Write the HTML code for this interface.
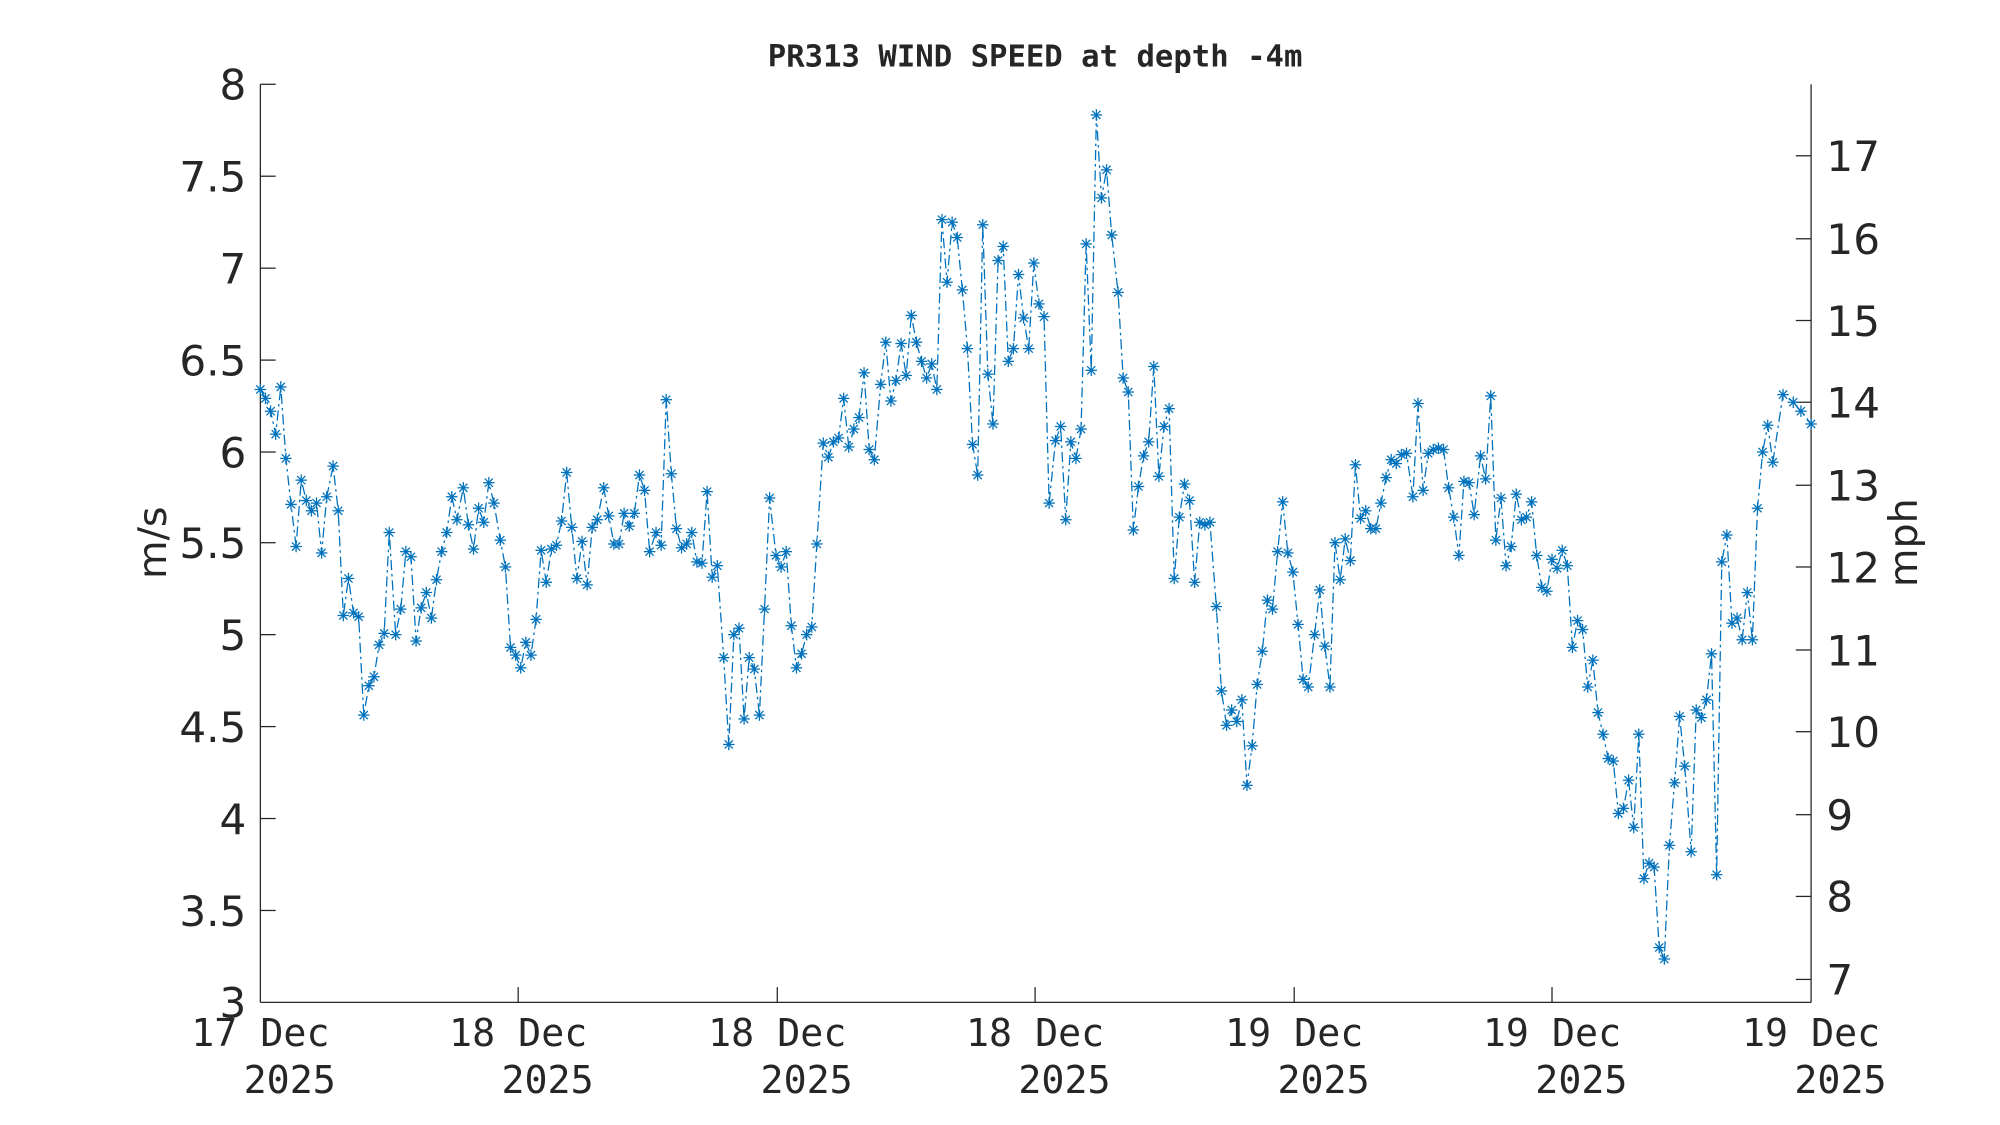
<!DOCTYPE html>
<html><head><meta charset="utf-8"><style>
html,body{margin:0;padding:0;background:#fff;}
svg{display:block;}
text{font-family:"DejaVu Sans","Liberation Sans",sans-serif;fill:#262626;}
.mono,.mono text{font-family:"DejaVu Sans Mono","Liberation Mono",monospace;}
</style></head><body>
<svg width="2000" height="1125" viewBox="0 0 1567 881" preserveAspectRatio="none" xmlns="http://www.w3.org/2000/svg">
<defs>
<marker id="ast" viewBox="-5 -5 10 10" markerWidth="10" markerHeight="10" markerUnits="userSpaceOnUse" refX="0" refY="0" overflow="visible">
<g stroke="#0072BD" stroke-width="1" fill="none">
<line x1="-4.5" y1="0" x2="4.5" y2="0"/><line x1="0" y1="-4.5" x2="0" y2="4.5"/>
<line x1="-3.2" y1="-3.2" x2="3.2" y2="3.2"/><line x1="-3.2" y1="3.2" x2="3.2" y2="-3.2"/>
</g></marker>
</defs>
<rect x="0" y="0" width="1567" height="881" fill="#fff"/>
<text x="811" y="52" text-anchor="middle" class="mono" font-size="24" font-weight="bold" fill="#000">PR313 WIND SPEED at depth -4m</text>
<g stroke="#262626" stroke-width="1" fill="none">
<line x1="204" y1="66" x2="204" y2="785"/>
<line x1="1419" y1="66" x2="1419" y2="785"/>
<line x1="204" y1="785" x2="1419" y2="785"/>
</g>
<g stroke="#262626" stroke-width="1">
<line x1="204" y1="66" x2="216" y2="66"/><line x1="204" y1="138" x2="216" y2="138"/>
<line x1="204" y1="210" x2="216" y2="210"/><line x1="204" y1="282" x2="216" y2="282"/>
<line x1="204" y1="354" x2="216" y2="354"/><line x1="204" y1="425" x2="216" y2="425"/>
<line x1="204" y1="497" x2="216" y2="497"/><line x1="204" y1="569" x2="216" y2="569"/>
<line x1="204" y1="641" x2="216" y2="641"/><line x1="204" y1="713" x2="216" y2="713"/>
<line x1="406" y1="785" x2="406" y2="773"/><line x1="609" y1="785" x2="609" y2="773"/>
<line x1="811" y1="785" x2="811" y2="773"/><line x1="1014" y1="785" x2="1014" y2="773"/>
<line x1="1216" y1="785" x2="1216" y2="773"/>
<line x1="1419" y1="767" x2="1407" y2="767"/><line x1="1419" y1="702" x2="1407" y2="702"/>
<line x1="1419" y1="638" x2="1407" y2="638"/><line x1="1419" y1="573" x2="1407" y2="573"/>
<line x1="1419" y1="509" x2="1407" y2="509"/><line x1="1419" y1="444" x2="1407" y2="444"/>
<line x1="1419" y1="380" x2="1407" y2="380"/><line x1="1419" y1="315" x2="1407" y2="315"/>
<line x1="1419" y1="251" x2="1407" y2="251"/><line x1="1419" y1="187" x2="1407" y2="187"/>
<line x1="1419" y1="122" x2="1407" y2="122"/>
</g>
<g font-size="33" text-anchor="end">
<text x="193" y="78">8</text><text x="193" y="150">7.5</text><text x="193" y="222">7</text>
<text x="193" y="294">6.5</text><text x="193" y="366">6</text><text x="193" y="437">5.5</text>
<text x="193" y="509">5</text><text x="193" y="581">4.5</text><text x="193" y="653">4</text>
<text x="193" y="725">3.5</text><text x="193" y="797">3</text>
</g>
<g font-size="33" text-anchor="start">
<text x="1431" y="779">7</text><text x="1431" y="714">8</text><text x="1431" y="650">9</text>
<text x="1431" y="585">10</text><text x="1431" y="521">11</text><text x="1431" y="456">12</text>
<text x="1431" y="392">13</text><text x="1431" y="327">14</text><text x="1431" y="263">15</text>
<text x="1431" y="199">16</text><text x="1431" y="134">17</text>
</g>
<g font-size="30" text-anchor="middle" class="mono">
<text x="204" y="819">17 Dec</text><text x="227" y="856">2025</text>
<text x="406" y="819">18 Dec</text><text x="429" y="856">2025</text>
<text x="609" y="819">18 Dec</text><text x="632" y="856">2025</text>
<text x="811" y="819">18 Dec</text><text x="834" y="856">2025</text>
<text x="1014" y="819">19 Dec</text><text x="1037" y="856">2025</text>
<text x="1216" y="819">19 Dec</text><text x="1239" y="856">2025</text>
<text x="1419" y="819">19 Dec</text><text x="1442" y="856">2025</text>
</g>
<text transform="translate(130,425) rotate(-90)" text-anchor="middle" font-size="31">m/s</text>
<text transform="translate(1502,425) rotate(-90)" text-anchor="middle" font-size="31">mph</text>
<polyline fill="none" stroke="#0072BD" stroke-width="1" stroke-dasharray="8,3,2,3" marker-start="url(#ast)" marker-mid="url(#ast)" marker-end="url(#ast)" points="204,305 208,312 212,322 216,340 220,303 224,359 228,395 232,428 236,376 240,392 244,400 248,394 252,433 256,389 261,365 265,400 269,482 273,453 277,480 281,483 285,560 289,537 293,530 297,505 301,496 305,417 310,497 314,477 318,432 322,436 326,502 330,476 334,464 338,484 342,454 346,432 350,417 354,389 358,407 363,382 367,411 371,430 375,398 379,409 383,378 387,394 392,423 396,444 400,507 404,513 408,523 412,503 416,513 420,485 424,431 428,456 432,430 436,427 440,408 444,370 448,413 452,453 456,424 460,458 464,413 468,407 473,382 477,404 481,426 485,426 489,402 493,412 497,402 501,372 505,384 509,432 514,417 518,427 522,313 526,371 530,414 534,429 538,426 542,417 546,440 550,441 554,385 558,452 562,443 567,515 571,583 575,497 579,492 583,563 587,515 591,524 595,560 599,477 603,390 608,435 612,444 616,432 620,490 624,523 628,512 632,497 636,491 640,426 645,347 649,358 653,346 657,343 661,312 665,350 669,336 673,327 677,292 681,352 685,360 690,301 694,268 698,314 702,298 706,269 710,294 714,247 718,268 722,283 726,296 730,285 734,305 738,172 742,221 746,174 750,186 754,227 758,273 762,348 766,372 770,176 774,293 778,332 782,204 786,193 790,283 794,273 798,215 802,249 806,273 810,206 814,238 818,248 822,394 827,345 831,334 835,407 839,346 843,359 847,336 851,191 855,290 859,90 863,155 867,133 871,184 876,229 880,296 884,307 888,415 892,381 896,357 900,346 904,287 908,373 912,334 916,320 920,453 924,405 928,379 932,392 936,456 940,409 944,411 948,409 953,475 957,541 961,568 965,556 969,565 973,548 977,615 981,584 985,536 989,510 993,470 997,477 1001,432 1005,393 1009,433 1013,448 1017,489 1021,532 1025,538 1030,497 1034,462 1038,506 1042,538 1046,425 1050,454 1054,422 1058,439 1062,364 1066,406 1070,400 1074,414 1078,414 1082,394 1086,374 1090,360 1094,363 1098,356 1102,355 1107,389 1111,316 1115,384 1119,355 1123,352 1127,351 1131,352 1135,382 1139,405 1143,435 1147,377 1151,378 1155,403 1160,357 1164,375 1168,310 1172,423 1176,390 1180,443 1184,428 1188,387 1192,407 1196,405 1200,393 1204,435 1208,460 1212,463 1216,438 1220,445 1224,431 1228,443 1232,507 1236,486 1240,493 1244,538 1248,517 1252,558 1256,575 1260,594 1264,596 1268,637 1272,633 1276,611 1280,648 1284,575 1288,688 1292,676 1296,679 1300,742 1304,751 1308,662 1312,613 1316,561 1320,600 1325,667 1329,556 1333,562 1337,548 1341,512 1345,685 1349,440 1353,419 1357,488 1361,484 1365,501 1369,464 1373,501 1377,398 1381,354 1385,333 1389,362 1397,309 1405,315 1411,322 1419,332"/>
</svg>
</body></html>
